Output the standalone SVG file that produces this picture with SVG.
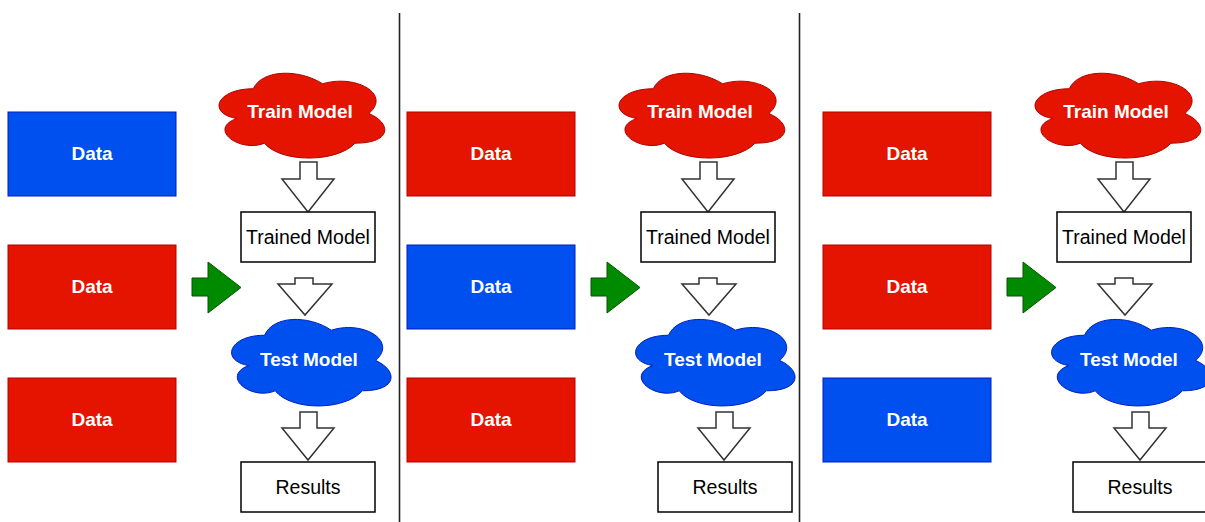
<svg xmlns="http://www.w3.org/2000/svg" width="1205" height="522" viewBox="0 0 1205 522">
<style>
text{font-family:"Liberation Sans",Arial,Helvetica,sans-serif;text-anchor:middle}
.lbl{font-size:19px;font-weight:bold;fill:#fff}
.txt{font-size:19.5px;fill:#000}
.red{fill:#e51400;stroke:#b20000;stroke-width:1}
.blue{fill:#0050ef;stroke:#001dbc;stroke-width:1}
.box{fill:#fff;stroke:#000;stroke-width:1.5}
.barrow{fill:#fff;stroke:#333;stroke-width:1.5;stroke-linejoin:miter}
.garrow{fill:#008a00;stroke:#005700;stroke-width:1}
.sep{stroke:#222;stroke-width:1.6}
</style>
<defs>
<path id="trainCloud" d="M46.25,24.75 C9.25,24.75 0,49.5 29.6,54.45 C0,65.34 33.3,89.1 57.35,79.2 C74,99 129.5,99 148,79.2 C185,79.2 185,59.4 161.875,49.5 C185,29.7 148,9.9 115.625,19.8 C92.5,4.95 55.5,4.95 46.25,24.75 Z"/>
<path id="testCloud" d="M44.5,25.25 C8.9,25.25 0,50.5 28.48,55.55 C0,66.66 32.04,90.9 55.18,80.8 C71.2,101 124.6,101 142.4,80.8 C178,80.8 178,60.6 155.75,50.5 C178,30.3 142.4,10.1 111.25,20.2 C89,5.05 53.4,5.05 44.5,25.25 Z"/>
<path id="arrowA1" d="M300,162 H317 V179 H334 L308,212 L282,179 H300 Z"/>
<path id="arrowA2" d="M295,278 H313 V284 H332 L305,315 L278,284 H295 Z"/>
<path id="arrowA3" d="M300,412 H317 V428 H334 L308,460 L282,428 H300 Z"/>
<path id="arrowG" d="M192,278 H208 V262 L241,287.5 L208,313 V296 H192 Z"/>
</defs>

<g id="separators">
<line class="sep" x1="399.5" y1="13" x2="399.5" y2="522"/>
<line class="sep" x1="799.5" y1="13" x2="799.5" y2="522"/>
</g>

<g id="connectors">
<use href="#arrowG" class="garrow"/>
<use href="#arrowA1" class="barrow"/>
<use href="#arrowA2" class="barrow"/>
<use href="#arrowA3" class="barrow"/>
<use href="#arrowG" class="garrow" transform="translate(399,0)"/>
<use href="#arrowA1" class="barrow" transform="translate(400,0)"/>
<use href="#arrowA2" class="barrow" transform="translate(404,0)"/>
<use href="#arrowA3" class="barrow" transform="translate(416,0)"/>
<use href="#arrowG" class="garrow" transform="translate(815,0)"/>
<use href="#arrowA1" class="barrow" transform="translate(816,0)"/>
<use href="#arrowA2" class="barrow" transform="translate(820,0)"/>
<use href="#arrowA3" class="barrow" transform="translate(832,0)"/>
</g>

<!-- Panel 1 -->
<g id="p1-data1"><rect class="blue" x="8" y="112" width="168" height="84"/><text class="lbl" x="92" y="160">Data</text></g>
<g id="p1-data2"><rect class="red" x="8" y="245" width="168" height="84"/><text class="lbl" x="92" y="293">Data</text></g>
<g id="p1-data3"><rect class="red" x="8" y="378" width="168" height="84"/><text class="lbl" x="92" y="426">Data</text></g>
<g id="p1-train" transform="translate(207,64)"><use href="#trainCloud" class="red"/><text class="lbl" x="93" y="53.5">Train Model</text></g>
<g id="p1-trained"><rect class="box" x="241" y="212" width="134" height="50"/><text class="txt" x="308" y="243.5">Trained Model</text></g>
<g id="p1-test" transform="translate(220,310)"><use href="#testCloud" class="blue"/><text class="lbl" x="89" y="56">Test Model</text></g>
<g id="p1-results"><rect class="box" x="241" y="462" width="134" height="50"/><text class="txt" x="308" y="493.5">Results</text></g>

<!-- Panel 2 -->
<g id="p2-data1"><rect class="red" x="407" y="112" width="168" height="84"/><text class="lbl" x="491" y="160">Data</text></g>
<g id="p2-data2"><rect class="blue" x="407" y="245" width="168" height="84"/><text class="lbl" x="491" y="293">Data</text></g>
<g id="p2-data3"><rect class="red" x="407" y="378" width="168" height="84"/><text class="lbl" x="491" y="426">Data</text></g>
<g id="p2-train" transform="translate(607,64)"><use href="#trainCloud" class="red"/><text class="lbl" x="93" y="53.5">Train Model</text></g>
<g id="p2-trained"><rect class="box" x="641" y="212" width="134" height="50"/><text class="txt" x="708" y="243.5">Trained Model</text></g>
<g id="p2-test" transform="translate(624,310)"><use href="#testCloud" class="blue"/><text class="lbl" x="89" y="56">Test Model</text></g>
<g id="p2-results"><rect class="box" x="658" y="462" width="134" height="50"/><text class="txt" x="725" y="493.5">Results</text></g>

<!-- Panel 3 -->
<g id="p3-data1"><rect class="red" x="823" y="112" width="168" height="84"/><text class="lbl" x="907" y="160">Data</text></g>
<g id="p3-data2"><rect class="red" x="823" y="245" width="168" height="84"/><text class="lbl" x="907" y="293">Data</text></g>
<g id="p3-data3"><rect class="blue" x="823" y="378" width="168" height="84"/><text class="lbl" x="907" y="426">Data</text></g>
<g id="p3-train" transform="translate(1023,64)"><use href="#trainCloud" class="red"/><text class="lbl" x="93" y="53.5">Train Model</text></g>
<g id="p3-trained"><rect class="box" x="1057" y="212" width="134" height="50"/><text class="txt" x="1124" y="243.5">Trained Model</text></g>
<g id="p3-test" transform="translate(1040,310)"><use href="#testCloud" class="blue"/><text class="lbl" x="89" y="56">Test Model</text></g>
<g id="p3-results"><rect class="box" x="1073" y="462" width="134" height="50"/><text class="txt" x="1140" y="493.5">Results</text></g>
</svg>
